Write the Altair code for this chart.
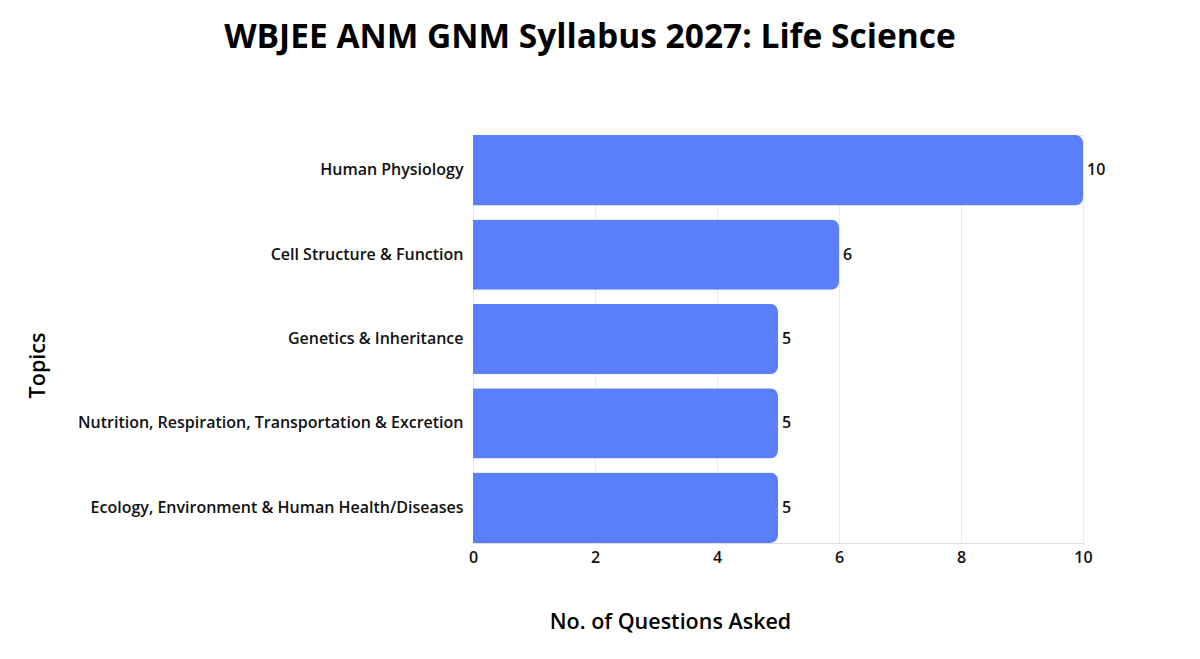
import altair as alt
import pandas as pd

topics = [
    "Human Physiology",
    "Cell Structure & Function",
    "Genetics & Inheritance",
    "Nutrition, Respiration, Transportation & Excretion",
    "Ecology, Environment & Human Health/Diseases",
]
questions = [10, 6, 5, 5, 5]

df = pd.DataFrame({"Topic": topics, "Questions": questions})

FONT = "Open Sans"
BAR = "#5b7ffb"

y_enc = alt.Y(
    "Topic:N",
    sort=topics,
    scale=alt.Scale(paddingInner=0.166, paddingOuter=0.0),
    axis=alt.Axis(
        title="Topics",
        titleFont=FONT,
        titleFontSize=21.5,
        titleFontWeight=600,
        titleColor="#000000",
        titleX=-435,
        titleY=230,
        titleAngle=-90,
        titleAlign="center",
        titleBaseline="middle",
        labelFont=FONT,
        labelFontSize=16,
        labelFontWeight=600,
        labelColor="#111111",
        labelPadding=10,
        labelLimit=500,
        ticks=False,
        domain=False,
        grid=False,
    ),
)

x_enc = alt.X(
    "Questions:Q",
    scale=alt.Scale(domain=[0, 10], nice=False),
    axis=alt.Axis(
        title="No. of Questions Asked",
        titleFont=FONT,
        titleFontSize=21.5,
        titleFontWeight=600,
        titleColor="#000000",
        titleX=197,
        titleY=79,
        titleAlign="center",
        titleBaseline="middle",
        values=[0, 2, 4, 6, 8, 10],
        format="d",
        labelFont=FONT,
        labelFontSize=16,
        labelFontWeight=600,
        labelColor="#111111",
        labelPadding=6,
        labelFlush=False,
        ticks=False,
        domain=False,
        grid=True,
        gridColor="#ececec",
        gridWidth=1,
    ),
)

bars = alt.Chart(df).mark_bar(color=BAR, cornerRadiusEnd=8).encode(x=x_enc, y=y_enc)

labels = alt.Chart(df).mark_text(
    align="left", baseline="middle", dx=4, font=FONT, fontSize=16, fontWeight=600, color="#111111"
).encode(
    x=alt.X("Questions:Q"),
    y=alt.Y("Topic:N", sort=topics),
    text=alt.Text("Questions:Q"),
)

chart = (
    alt.layer(bars, labels)
    .properties(
        width=610,
        height=408,
        autosize=alt.AutoSizeParams(type="none"),
        padding={"left": 465, "top": 127, "right": 109, "bottom": 100},
        title=alt.TitleParams(
            text="WBJEE ANM GNM Syllabus 2027: Life Science",
            font=FONT,
            fontSize=33.5,
            fontWeight="bold",
            color="#000000",
            anchor="middle",
            dx=-188,
            dy=-80,
            offset=0,
        ),
    )
    .configure_view(stroke=None)
    .configure(background="#ffffff")
)

chart.save("out.html", embed_options={"renderer": "svg", "actions": False})
